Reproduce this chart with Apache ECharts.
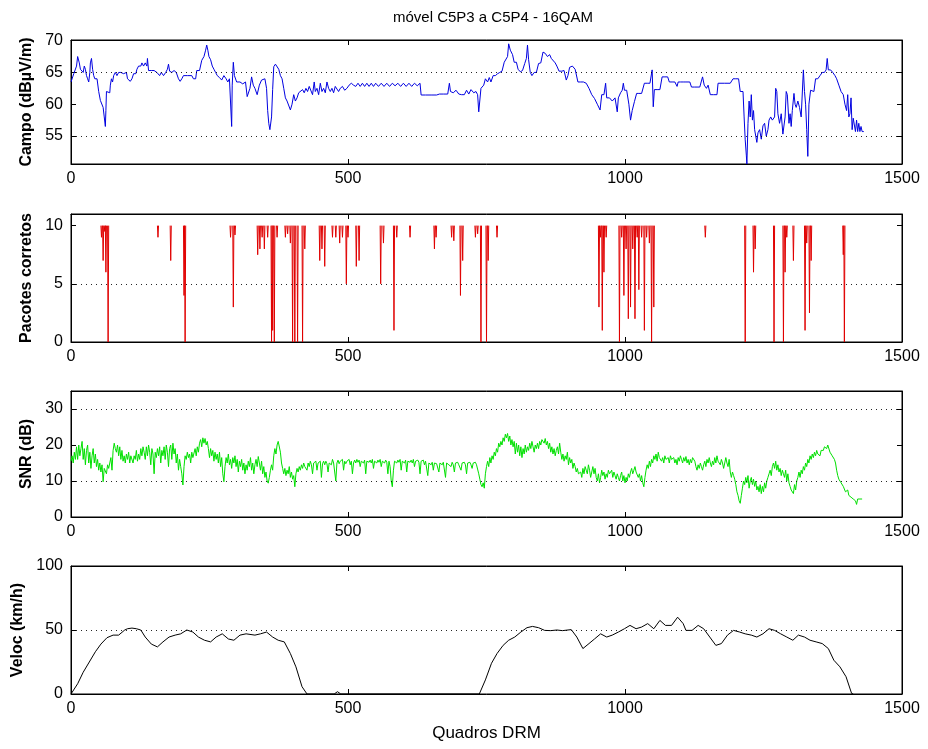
<!DOCTYPE html>
<html>
<head>
<meta charset="utf-8">
<script src="https://cdn.jsdelivr.net/npm/echarts@6/dist/echarts.min.js"></script>
<style>html,body{margin:0;padding:0;background:#fff}#c{width:928px;height:749px}</style>
</head>
<body>
<div id="c"></div>
<script>
// ---------- data ----------
const titleText = 'móvel C5P3 a C5P4 - 16QAM';
const xTicks = [0, 500, 1000, 1500];

// Campo (dBµV/m): frame, value
const campoFrames = [0,3,5,8,10,12,14,15,17,20,22,24,26,28,30,32,34,35,37,39,41,43,45,47,48,50,52,53,56,58,60,62,63,64,67,70,71,73,75,77,80,83,86,90,95,100,102,105,107,110,113,117,119,122,126,128,131,134,137,138,140,145,150,155,160,163,167,171,174,176,178,182,186,190,194,197,200,203,210,218,221,225,227,232,236,240,243,245,247,249,252,255,258,261,264,268,272,276,280,283,286,289,290,291,293,295,299,305,310,315,318,321,323,326,329,332,336,340,344,347,350,353,355,357,359,361,362,364,366,369,372,375,378,381,384,387,390,393,396,397,399,402,405,408,411,414,418,421,424,427,430,433,436,439,441,444,447,450,453,456,459,462,465,468,471,474,477,480,483,486,490,494,498,502,506,510,514,518,522,526,530,534,538,542,546,550,555,560,565,570,575,580,585,590,595,600,605,610,615,620,625,630,632,640,650,660,665,672,680,683,685,690,695,700,705,710,714,718,722,727,731,734,736,738,740,745,748,752,755,758,762,766,770,774,778,782,785,788,790,793,797,800,804,807,811,815,819,822,824,826,829,832,836,840,844,848,852,856,860,864,867,870,874,877,881,886,890,894,897,900,905,910,915,920,925,930,935,940,945,950,955,958,962,965,967,972,977,982,986,988,992,995,997,999,1003,1007,1010,1013,1017,1021,1025,1030,1035,1040,1045,1049,1051,1053,1058,1063,1067,1072,1077,1080,1085,1090,1094,1096,1100,1105,1110,1117,1120,1125,1130,1135,1140,1143,1147,1150,1154,1160,1166,1168,1180,1190,1195,1200,1205,1208,1213,1215,1217,1219,1220,1222,1224,1226,1228,1230,1232,1234,1236,1238,1240,1243,1246,1249,1252,1255,1258,1260,1263,1266,1270,1272,1274,1276,1279,1282,1285,1287,1289,1291,1293,1296,1298,1300,1302,1305,1307,1309,1312,1315,1318,1322,1324,1326,1328,1330,1332,1335,1338,1341,1344,1348,1352,1356,1360,1363,1365,1367,1371,1375,1379,1382,1386,1390,1394,1397,1400,1402,1404,1406,1408,1410,1412,1414,1416,1418,1420,1422,1424,1426,1428,1431];
const campoValues = [63.5,63.5,64.8,65,66,67.5,67.5,66.5,65.5,65.5,65,66,65.5,64.5,64,63.5,65,66.5,67.2,65.5,64.5,64,63.8,64,63.8,62,62.2,60.6,60.6,59.5,58,56.5,59,62,62.2,61.8,63,64,63.5,64.5,65,64.5,65,65,64.8,65,64,63.8,63.6,64,64.8,64.8,65.5,66,66,66.5,66,66.5,66,67.2,65.3,65.3,65.3,65,64.5,65,64.5,65,65.5,66.3,65.2,65,65.3,65,64,63.6,64,64.5,64.5,64.5,64,64,65.3,65.3,66.9,67.5,68.5,69.3,68.5,67.5,67,66,65.5,65,64.5,64.2,63.8,64.5,64,63.5,64,63.8,56.5,63,66.6,64.5,63.5,63.5,63.2,63.5,61.2,61.2,62.5,64.3,63,62.5,61.5,63,63.8,63.5,64,62.5,59,57,56,55.7,58,62.3,65.9,66.3,66.3,65.5,64.5,64,62.5,61,60.5,60.8,59.1,58.8,60,61.5,60.5,61,61.8,61.5,62.3,61.8,62.5,62,62.8,62.5,61.5,63.5,62,62.5,61.5,63.3,62,62.5,61.8,63.5,62.5,62,62.5,61.8,62.8,62.5,62,62.5,62.8,62.2,62.5,63,63.3,63,62.8,63.3,62.8,63.3,62.8,63.3,62.8,63.3,62.8,63.3,62.8,63.3,62.8,63.3,62.8,63.3,62.9,63.3,62.8,63.3,62.8,63.3,62.8,63.3,62.9,63.3,61.45,61.45,61.45,61.45,61.6,61.6,61.6,63.3,62,61.8,62.2,61.6,61.5,61.5,62.2,61.6,62.3,61.8,62,61.5,58.8,59,62.5,63,64,63.5,64.2,63.5,64.5,64.5,64.8,65,65.2,66.6,66.6,67.5,69.5,68.5,67.8,66.6,66.6,65.5,65.1,65.3,66.4,67.2,69.3,67,65,64.5,65,65,66.4,66.5,68.2,68,67.5,67.8,67.2,67.5,66.5,66,65.2,65.2,65.3,63.8,64.5,65.8,66,65.5,63.5,63.5,63.5,63.3,62.5,61.5,60.9,60,59.1,61.5,61.5,63.3,61,61,60.5,61,58.8,61,61.8,62.2,63.3,62.2,62.2,60,57.5,59,60.4,61.7,61.7,61.7,63.3,63.3,63.3,65.4,59.6,62.3,62.3,62.3,64.3,64.3,64.3,63.5,63.5,63.5,62.8,63.5,63.5,63.5,63.5,63.5,62.7,62.7,62.7,62.7,64.3,63,62.5,63,61.5,61.5,61.5,63.3,63.3,63.3,64,64,64,62,62,58,54.4,52,50.6,57,60.5,58,61.5,57.5,59,56,55,54,55.5,56,54.5,56.6,57,55,56,57.5,58,57.5,58,62.5,62,58.5,57,58.5,55.3,55,58,62,61.5,57,58.5,56.5,59,61.7,60,59.5,60.5,59.5,58,65.4,62,60,56,51.8,60,62.2,62.5,62,64,64,64.5,65,65,65.4,67.2,65.4,65.4,65,64.5,64,63,62,61.5,60,59,61.5,58,58.5,61,56,57.8,57.5,55.7,57.5,55.7,57,55.7,56.5,55.7,55.7];

// Pacotes corretos: frames where the count drops below 10, and the lowest value reached
const pktBase = 10;
const pktFrames = [55,58,61,63,67,157,180,204,206,288,293,296,337,341,345,349,355,362,364,367,372,387,391,396,400,404,409,418,422,449,453,458,472,478,485,490,497,500,515,520,559,564,583,588,612,656,659,687,691,703,707,730,734,740,750,753,769,953,956,959,962,966,990,994,998,1002,1006,1010,1014,1018,1022,1025,1030,1035,1039,1044,1048,1052,1145,1217,1232,1235,1269,1286,1289,1292,1304,1325,1328,1333,1336,1394,1396];
const pktMins = [9,7,9.5,6,0,9,7,4,0,9,3,9.2,7.5,8,9,8,9,0,1,0,9,9,9.3,8.5,0,0,0,0,8,7,8,6.5,9,9,8.5,9,5,9,6.5,7,5,8.5,1,9,9,8,9,9,8.7,4,7,9,9.3,0,0,7,9,3,9,1,6,9,0,9,4,8,2,3,8,2,9,4.5,9,1,9,8.5,0,3,9,0,6,8,0,0,6,9,7,1,8.5,2.5,7,7.5,0];

// SNR (dB): one value every 2 frames, from frame 0
const snrFrameStep = 2;
const snrValues = [15.5,17,15,18,16,19.5,16,20,17,19,21,16,19,14.5,18.5,20,15,18,13.5,17,19,15,17.5,14,16,13,15,12.5,14.5,9.8,13.5,14,12,14.5,13.5,15,16.5,13,18.5,20.5,19,18,20,17,19.5,16,18.5,15.5,17,15,17.5,16,18,15,17,16.5,15,17,16,18.5,15.5,17.5,16,19,17,19.5,18,16,19.5,17,20,18,14.5,19,17.5,12,18,16.5,19,17,19.5,15,18.5,17,19.5,16,20,18,14,19,20,16,20.5,17.5,19,15,17.5,13,16,14,12,8.9,14,17,16,18,16.5,17.5,15,18,16.5,17,19,17,19.5,18,20.5,21.5,19.5,22,20.5,21.8,20,21,19,16.5,19,17,18.5,15.5,18,16,17.5,15,18,14,16.5,12,9.8,14,16.5,15,17.5,14.5,16,13.5,16.5,15,17,14,16,12.5,15.5,14,16,13,15,12,14.5,13,15.5,14,16.5,13,15,12,14.5,16,14,16.8,15,13,15.5,12,14,11,12.5,10,9.4,11,13,14.5,13,17,19,17.5,20,21,20.5,18,15,13.5,12,13.5,11.5,13,12,14,11,12.5,10.5,11.5,8.4,12,13.5,12.5,14,13,14.5,13.5,15,14,14.5,13,15,14,15.5,14.5,12,15,14.5,15.5,13,15,14.5,15.5,11,14.8,15.5,14.5,15.5,14.8,12.5,15,15.5,14.5,16,15,15.5,10,15,15.8,14.8,15.5,15,16,13,15.5,14.8,15.5,15,16,14.5,15.5,12,15,15.8,15,16,15.2,15.8,14,15.5,16,15,15.8,12,15.5,16,15.2,15.8,15,16,13.5,15.5,16,15,15.8,15.2,16,14,15.5,16,15,15.8,15.2,12,15.5,14,10,8.4,13,15.5,16,15,15.8,15.2,16,13,15.5,16,15,15.8,12.5,15.5,16,15.2,15.8,15,16,14,15.5,15,15.8,15.2,12,15.5,15,15.8,14.5,15.5,15,11.5,15,15.5,14.5,15.2,13,15,15.5,14.8,15.2,12.5,15,15.5,14.5,15.2,14.8,11,15,15.3,14.5,15,14,15.2,14.5,12.5,15,14.8,15.2,14.5,15,13,15,14.6,15.2,14.5,12,15,14.8,15.2,14.5,13.5,15,14.8,15.2,14.5,15,12,10.5,9,8.4,9.5,8,12,14,15.5,14,16.5,15,17,16,18,17,19,18,20.5,19.5,21,20,22,21,23,22,23.2,21,22.5,20,21.5,19.5,21,17.5,20.5,18,20,17,19.5,16.5,19,17.5,20,18,19.5,18.5,20.5,19,21,19.5,18,20,19,20.5,19,21,20,21.5,22,20.5,21.8,20,21,19,20.5,18,19.5,17.5,19,17,18.5,19.5,17.5,20.5,18,16,17.5,15.5,17,16,18,14.5,16.5,15,16,13.5,15,14,12.5,13.5,12,11.5,12.5,11,13.5,12,14,13,12,14.5,13,11,12.5,14,12,13.5,11,10,12,9.5,11,13,11.5,12.5,10.5,12,11,13,12,11.5,13,11,12.5,11.5,10.5,12,11,10,11.5,12.5,10,11.5,9.5,11,10,12,11,12.5,13.5,12,13,14,12.5,13,11,12,10,11.5,9.5,8.4,11,13,14.5,13.5,15.5,14,16,15,17,16,17.5,15.5,18,16.5,17,15.5,16.5,15,17,16,15.5,16.5,15,17,16,15.5,16.5,15,16,14.5,16.5,15.5,17,16,15,16.5,15.5,16.8,15,16,14.5,16,15,16.5,17,15.5,14,13,14.5,13.5,15,14,13,14.5,15.5,14,16,15,16.5,15,14,15.5,14.5,16.5,15,17,15.5,16,14.5,16,15,13.5,15,16.5,15,14,16,12.5,11,12.5,11.5,10.5,9,7,6,4.5,3.8,6,8,10,9,11,9.5,11.5,8,10,11,9,10.5,8.5,10,7.5,8.5,7,9,6.5,8.5,7,9.5,8,10,11,12,13,11.5,14,15,13.5,15.5,13,14.5,12.5,13.5,11.5,13,12,11,13,10,12,9.5,8.5,7.5,8,6.5,9,7.5,10,11,12.5,11,13,12,14,13,15,14,16,15,17,16,17.5,16.5,18,17,18.5,17.5,18,17,18.5,19,18.5,19.5,20,19,20,19.5,18,18.5,17,17.5,16,15,13,11.5,10.5,11,9.5,10,8.5,8,7,6.5,7.5,6,6.5,5.5,6,5,5.5,4.5,3.5,5,5.5,5,5.5,5];

// Veloc (km/h): frame, value
const velFrames = [0,12,22,33,44,54,65,76,86,97,102,110,118,126,134,145,156,166,177,188,198,209,220,230,241,252,262,273,284,294,305,316,332,342,353,364,374,385,396,406,417,426,475,481,487,737,748,759,769,780,790,801,812,823,833,844,855,866,877,887,903,913,924,935,945,956,967,977,988,999,1009,1020,1030,1041,1052,1063,1073,1084,1095,1105,1110,1121,1132,1142,1153,1164,1174,1185,1196,1207,1217,1228,1238,1249,1260,1270,1281,1292,1303,1313,1324,1334,1345,1356,1367,1377,1388,1399,1409,1412];
const velValues = [0,8,17,25,33,39,44,46,46,50,51,51.5,51,50,44.5,39,36.8,40.7,44.5,46,47,50,48.4,44.5,42,40.7,44.5,47,43,42,46,47,46,47,48.4,44.5,42,40.7,31.6,21.2,5.7,0,0,1.8,0,0,11,24,31.6,38,42,44.5,48.4,51.8,52.8,51.8,49.7,49.5,50,49.5,50.3,44.5,35.5,39.4,43,47,44.5,46,48.4,51,53.6,51,52.3,55,51,57.5,53.6,53.6,60,55,49.7,49.7,53.6,51,44.5,38,39.4,46,49.7,48.4,47,46,44.5,47,51,49.7,47,44.5,42,46,44.5,42,40.7,39.4,35.5,26.4,21.2,13.5,0.5,0];

// ---------- build ----------
const zip = (xs, ys) => xs.map((x, i) => [x, ys[i]]);
const campoData = zip(campoFrames, campoValues);
const snrData = snrValues.map((v, i) => [i * snrFrameStep, v]);
const velData = zip(velFrames, velValues);
const pktData = [];
pktFrames.forEach((f, i) => {
  pktData.push([f - 1, pktBase], [f, pktMins[i]], [f + 1, pktBase], null);
});

const FONT = '"Liberation Sans", Arial, Helvetica, sans-serif';
const grids = [
  {left: 71, right: 26, top: 40, height: 124},
  {left: 71, right: 26, top: 214, height: 128},
  {left: 71, right: 26, top: 391, height: 126},
  {left: 71, right: 26, top: 566, height: 128}
].map(g => Object.assign({show: true, borderColor: '#000', borderWidth: 1, backgroundColor: '#fff'}, g));

const plain = v => String(v);
const xAxes = [], yAxes = [];
const yCfg = [
  {name: 'Campo (dBµV/m)', min: 50.6, max: 70.1, ticks: [55, 60, 65, 70], gap: 32},
  {name: 'Pacotes corretos', min: 0, max: 11, ticks: [0, 5, 10], gap: 32},
  {name: 'SNR (dB)', min: 0, max: 35, ticks: [0, 10, 20, 30], gap: 32},
  {name: 'Veloc (km/h)', min: 0, max: 100, ticks: [0, 50, 100], gap: 36}
];
for (let g = 0; g < 4; g++) {
  xAxes.push({
    type: 'value', gridIndex: g, min: 0, max: 1500, position: 'bottom',
    axisLine: {show: true, onZero: false, lineStyle: {color: '#000', width: 1}},
    axisTick: {show: true, inside: true, length: 5, customValues: xTicks, lineStyle: {color: '#000'}},
    axisLabel: {show: true, customValues: xTicks, formatter: plain, color: '#000', fontSize: 16, fontFamily: FONT, margin: 7},
    splitLine: {show: false},
    name: g === 3 ? 'Quadros DRM' : '', nameLocation: 'middle', nameGap: 31,
    nameTextStyle: {color: '#000', fontSize: 17, fontFamily: FONT}
  });
  xAxes.push({
    type: 'value', gridIndex: g, min: 0, max: 1500, position: 'top',
    axisLine: {show: true, onZero: false, lineStyle: {color: '#000', width: 1}},
    axisTick: {show: true, inside: true, length: 5, customValues: xTicks, lineStyle: {color: '#000'}},
    axisLabel: {show: false}, splitLine: {show: false}
  });
  const c = yCfg[g];
  yAxes.push({
    type: 'value', gridIndex: g, min: c.min, max: c.max, position: 'left',
    axisLine: {show: true, onZero: false, lineStyle: {color: '#000', width: 1}},
    axisTick: {show: true, inside: true, length: 5, customValues: c.ticks, lineStyle: {color: '#000'}},
    axisLabel: {show: true, customValues: c.ticks, formatter: plain, color: '#000', fontSize: 16, fontFamily: FONT, margin: 8},
    splitLine: {show: false},
    name: c.name, nameLocation: 'middle', nameRotate: 90, nameGap: c.gap,
    nameTextStyle: {color: '#000', fontSize: 16, fontWeight: 'bold', fontFamily: FONT}
  });
  yAxes.push({
    type: 'value', gridIndex: g, min: c.min, max: c.max, position: 'right',
    axisLine: {show: true, onZero: false, lineStyle: {color: '#000', width: 1}},
    axisTick: {show: true, inside: true, length: 5, customValues: c.ticks, lineStyle: {color: '#000'}},
    axisLabel: {show: false}, splitLine: {show: false}
  });
}

const gridLines = (vals) => ({
  silent: true, symbol: ['none', 'none'], animation: false,
  label: {show: false},
  lineStyle: {color: '#000', type: [1, 4], width: 1, opacity: 0.85},
  data: vals.map(v => ({yAxis: v}))
});

const lineSeries = (idx, data, color, lines) => ({
  type: 'line', xAxisIndex: idx * 2, yAxisIndex: idx * 2, data: data,
  showSymbol: false, symbol: 'none', connectNulls: false,
  lineStyle: {color: color, width: 1}, itemStyle: {color: color},
  markLine: gridLines(lines), z: 3
});

const option = {
  animation: false,
  backgroundColor: '#fff',
  textStyle: {fontFamily: FONT},
  title: {
    text: titleText, left: 488, top: 5, textAlign: 'center',
    textStyle: {fontSize: 15, fontWeight: 'normal', color: '#000', fontFamily: FONT}
  },
  grid: grids,
  xAxis: xAxes,
  yAxis: yAxes,
  series: [
    lineSeries(0, campoData, '#0000e0', [55, 65, 70]),
    lineSeries(1, pktData, '#e00000', [5]),
    lineSeries(2, snrData, '#00e000', [10, 30]),
    lineSeries(3, velData, '#000000', [50])
  ]
};

const chart = echarts.init(document.getElementById('c'), null, {renderer: 'canvas'});
chart.setOption(option);
</script>
</body>
</html>
